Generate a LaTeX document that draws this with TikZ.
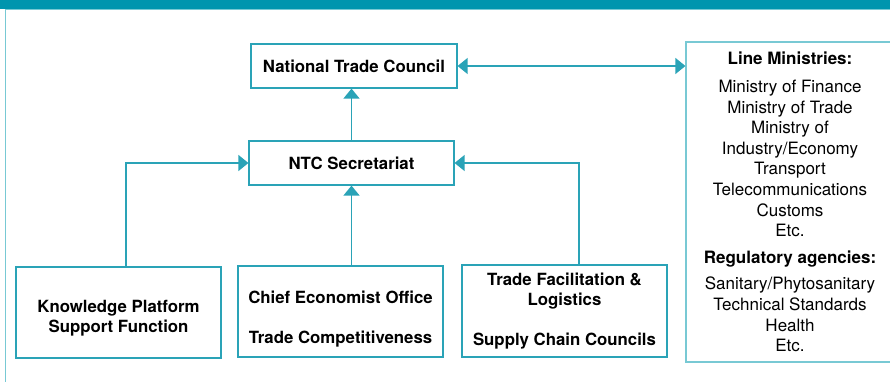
\documentclass[tikz,border=0pt]{standalone}
\usepackage{fontspec}
\setmainfont{TeX Gyre Heros}
\usepackage{xcolor}
\usetikzlibrary{arrows.meta, positioning}

\definecolor{barteal}{HTML}{0095AE}
\definecolor{boxteal}{HTML}{2AA3B7}
\definecolor{lightteal}{HTML}{78C9D4}

\begin{document}
\begin{tikzpicture}[x=1pt, y=-1pt,
    box/.style={draw=boxteal, line width=1.2pt, inner sep=0pt, align=center,
      font=\fontsize{16.8}{20.2}\selectfont\bfseries},
    conn/.style={draw=boxteal, line width=1.3pt,
      -{Triangle[width=16pt, length=10pt]}},
    conn2/.style={draw=boxteal, line width=1.3pt,
      {Triangle[width=16pt, length=10pt]}-{Triangle[width=16pt, length=10pt]}}]
  \useasboundingbox (0,0) rectangle (890,382);
  \clip (0,0) rectangle (890,382);

  % frame and top bar
  \draw[lightteal, line width=1pt] (5,382) -- (5,9.5) -- (890,9.5);
  \fill[barteal] (0,0) rectangle (890,9);

  % council and secretariat
  \node[box, minimum width=206pt, minimum height=44pt] (ntc) at (354,66)
    {National Trade Council};
  \node[box, minimum width=205pt, minimum height=44pt] (secretariat) at (351.5,163)
    {NTC Secretariat};

  % bottom row
  \node[box, minimum width=205pt, minimum height=91pt] (knowledge) at (118.5,312.5)
    {\\[3pt]Knowledge Platform\\Support Function};
  \node[box, minimum width=205pt, minimum height=91pt] (chief) at (340.5,311.5)
    {\\[8pt]Chief Economist Office\\[20pt]Trade Competitiveness};
  \node[box, minimum width=205pt, minimum height=92pt] (tradefac) at (564.5,311)
    {Trade Facilitation \&\\Logistics\\[20pt]Supply Chain Councils};

  % line ministries and agencies
  \node[box, draw=lightteal, font=\fontsize{17}{20.6}\selectfont,
    minimum width=208pt, minimum height=320pt] (ministries) at (790,202)
    {\textbf{Line Ministries:}\\[7pt]
     Ministry of Finance\\Ministry of Trade\\Ministry of\\Industry/Economy\\
     Transport\\Telecommunications\\Customs\\Etc.\\[6pt]
     \textbf{Regulatory agencies:}\\[6pt]
     Sanitary/Phytosanitary\\Technical Standards\\Health\\Etc.};

  % connectors
  \draw[conn] (secretariat.north) -- (secretariat.north |- ntc.south);
  \draw[conn2] (ntc.east) -- (ntc.east -| ministries.west);
  \draw[conn] ([xshift=7.5pt]knowledge.north) |- (secretariat.west);
  \draw[conn] (chief.north -| secretariat.south) -- (secretariat.south);
  \draw[conn] ([xshift=14.5pt]tradefac.north) |- (secretariat.east);
\end{tikzpicture}
\end{document}
